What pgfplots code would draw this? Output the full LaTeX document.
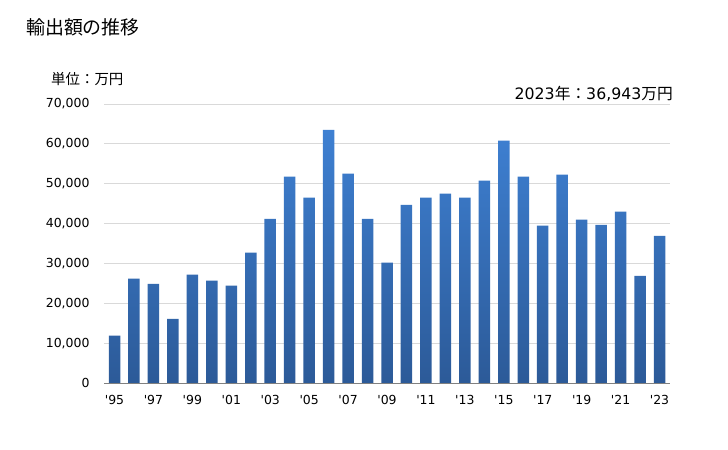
\documentclass[border=0pt]{standalone}
\usepackage{pgfplots}
\pgfplotsset{compat=1.18}
\usepackage{fontspec}
\setmainfont{DejaVu Sans}
\newfontfamily\cjk{Noto Sans CJK JP}
\newfontfamily\tickfont{DejaVu Sans}
\definecolor{bartop}{RGB}{62,128,210}
\definecolor{barbot}{RGB}{44,90,152}
\definecolor{gridc}{RGB}{217,217,217}
\definecolor{axc}{RGB}{128,128,128}
\begin{document}
\begin{tikzpicture}[x=1bp,y=1bp]
\useasboundingbox (0,0) rectangle (728,450);
\node[anchor=west,inner sep=0,font=\cjk\fontsize{19}{21}\selectfont] at (26,423) {輸出額の推移};
\node[anchor=west,inner sep=0,font=\cjk\fontsize{14.5}{16}\selectfont] at (51,371) {単位：万円};
\node[anchor=east,inner sep=0,font=\fontsize{15.8}{17}\selectfont] at (673,356) {2023{\cjk 年：}36,943{\cjk 万円}};
\begin{axis}[
  at={(104bp,67bp)}, anchor=south west,
  scale only axis, width=566bp, height=279bp,
  xmin=-0.54, xmax=28.54, ymin=0, ymax=70000,
  ybar, bar width=11.5bp,
  axis line style={draw=none},
  axis x line*=bottom,
  x axis line style={draw=axc, line width=0.8pt},
  ymajorgrids, grid style={gridc, line width=0.8pt},
  major tick length=0pt,
  ytick={0,10000,...,70000},
  scaled y ticks=false,
  /pgf/number format/fixed,
  /pgf/number format/1000 sep={,},
  /pgf/number format/assume math mode=true,
  yticklabel style={font=\tickfont\fontsize{12.5}{15}\selectfont, xshift=-11bp},
  xtick={0,2,...,28},
  xticklabels={'95,'97,'99,'01,'03,'05,'07,'09,'11,'13,'15,'17,'19,'21,'23},
  xticklabel style={font=\tickfont\fontsize{12.5}{15}\selectfont, yshift=-9bp},
  clip=false,
]
\addplot[draw=none, top color=bartop, bottom color=barbot] coordinates {
(0,11900) (1,26200) (2,24900) (3,16100) (4,27200) (5,25700) (6,24400) (7,32700)
(8,41200) (9,51800) (10,46500) (11,63500) (12,52500) (13,41200) (14,30200)
(15,44700) (16,46500) (17,47500) (18,46500) (19,50800) (20,60800) (21,51800)
(22,39500) (23,52300) (24,41000) (25,39700) (26,43000) (27,26900) (28,36943)
};
\end{axis}
\end{tikzpicture}
\end{document}
